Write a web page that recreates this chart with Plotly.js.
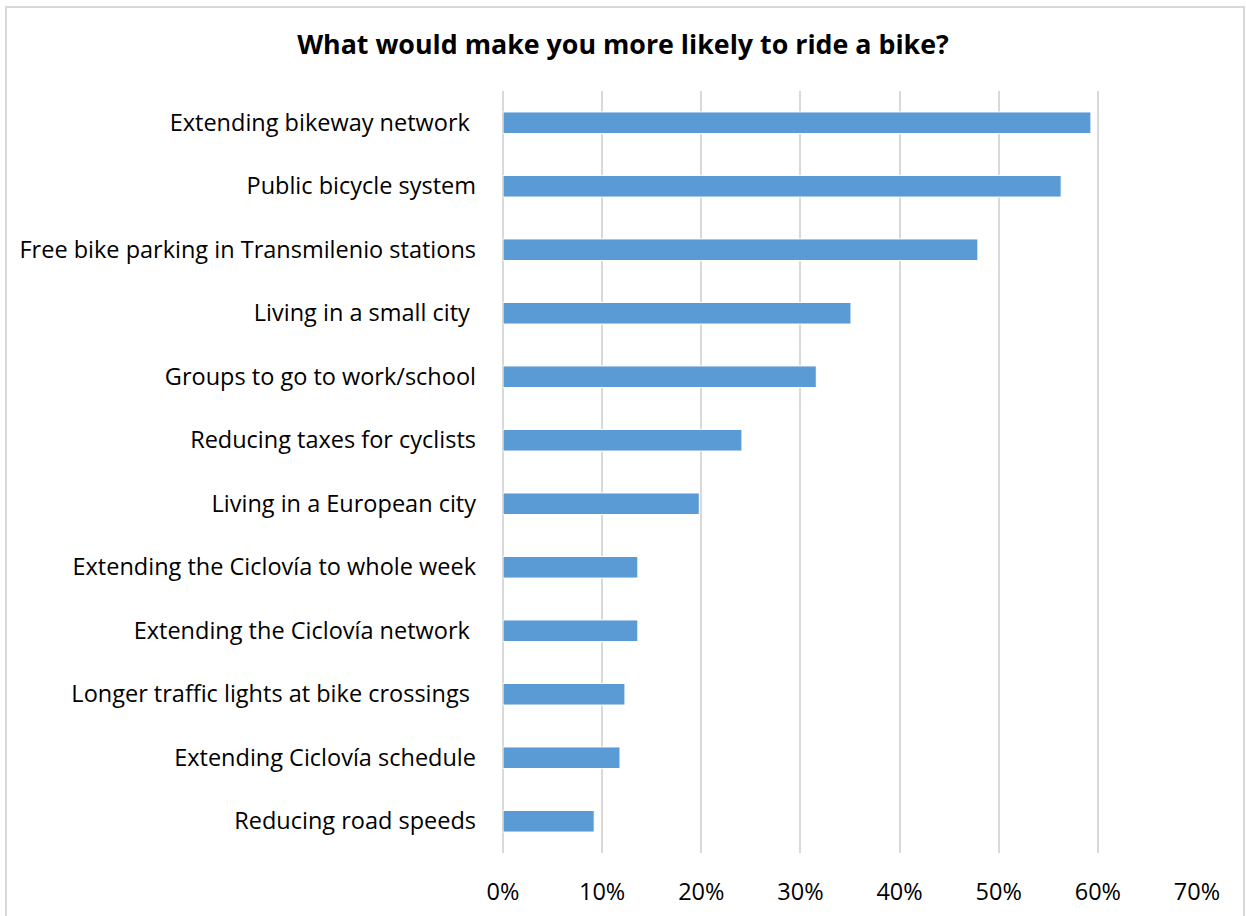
<!DOCTYPE html>
<html><head><meta charset="utf-8">
<script src="https://cdn.plot.ly/plotly-3.0.1.min.js"></script>
<style>
html,body{margin:0;padding:0;background:#fff;}
#frame{position:absolute;left:5px;top:6px;width:1240px;height:920px;border:2px solid #D9D9D9;box-sizing:border-box;}
#chart{position:absolute;left:0;top:0;width:1246px;height:916px;}
</style></head>
<body>
<div id="frame"></div>
<div id="chart"></div>
<script>
const categories = [
  "Extending bikeway network\u00a0",
  "Public bicycle system",
  "Free bike parking in Transmilenio stations",
  "Living in a small city\u00a0",
  "Groups to go to work/school",
  "Reducing taxes for cyclists",
  "Living in a European city",
  "Extending the Ciclovía to whole week",
  "Extending the Ciclovía network\u00a0",
  "Longer traffic lights at bike crossings\u00a0",
  "Extending Ciclovía schedule",
  "Reducing road speeds"
];
const values = [0.593, 0.563, 0.479, 0.351, 0.316, 0.241, 0.198, 0.136, 0.136, 0.123, 0.118, 0.092];
const tickVals = [0, 0.1, 0.2, 0.3, 0.4, 0.5, 0.6, 0.7];
const tickText = ["0%", "10%", "20%", "30%", "40%", "50%", "60%", "70%"];

const font = "'Open Sans', sans-serif";
Plotly.newPlot('chart', [{
  type: 'bar', orientation: 'h',
  x: values, y: categories,
  width: 0.34,
  marker: {color: '#5B9BD5', line: {color: '#FFFFFF', width: 1}},
  hoverinfo: 'x+y'
}], {
  width: 1246, height: 916,
  paper_bgcolor: 'rgba(0,0,0,0)', plot_bgcolor: 'rgba(0,0,0,0)',
  margin: {l: 503, r: 49, t: 91, b: 63, pad: 0},
  title: {text: '<b>What would make you more likely to ride a bike?</b>',
          x: 0.5, xref: 'container', y: 0.951, yref: 'container', yanchor: 'middle',
          font: {family: font, size: 26.8, color: '#000'}},
  xaxis: {range: [0, 0.7], tickvals: tickVals, ticktext: tickText,
          showgrid: true, gridcolor: '#D9D9D9', gridwidth: 2,
          zeroline: true, zerolinecolor: '#D9D9D9', zerolinewidth: 2,
          showline: false, ticks: '', ticklabelstandoff: 22,
          tickfont: {family: font, size: 23.5, color: '#000'}, fixedrange: true},
  yaxis: {autorange: 'reversed', showgrid: false, zeroline: false, showline: false,
          ticks: '', ticklabelstandoff: 26,
          tickfont: {family: font, size: 23.5, color: '#000'}, fixedrange: true},
  showlegend: false,
  bargap: 0.66
}, {displayModeBar: false, staticPlot: true});
</script>
</body></html>
